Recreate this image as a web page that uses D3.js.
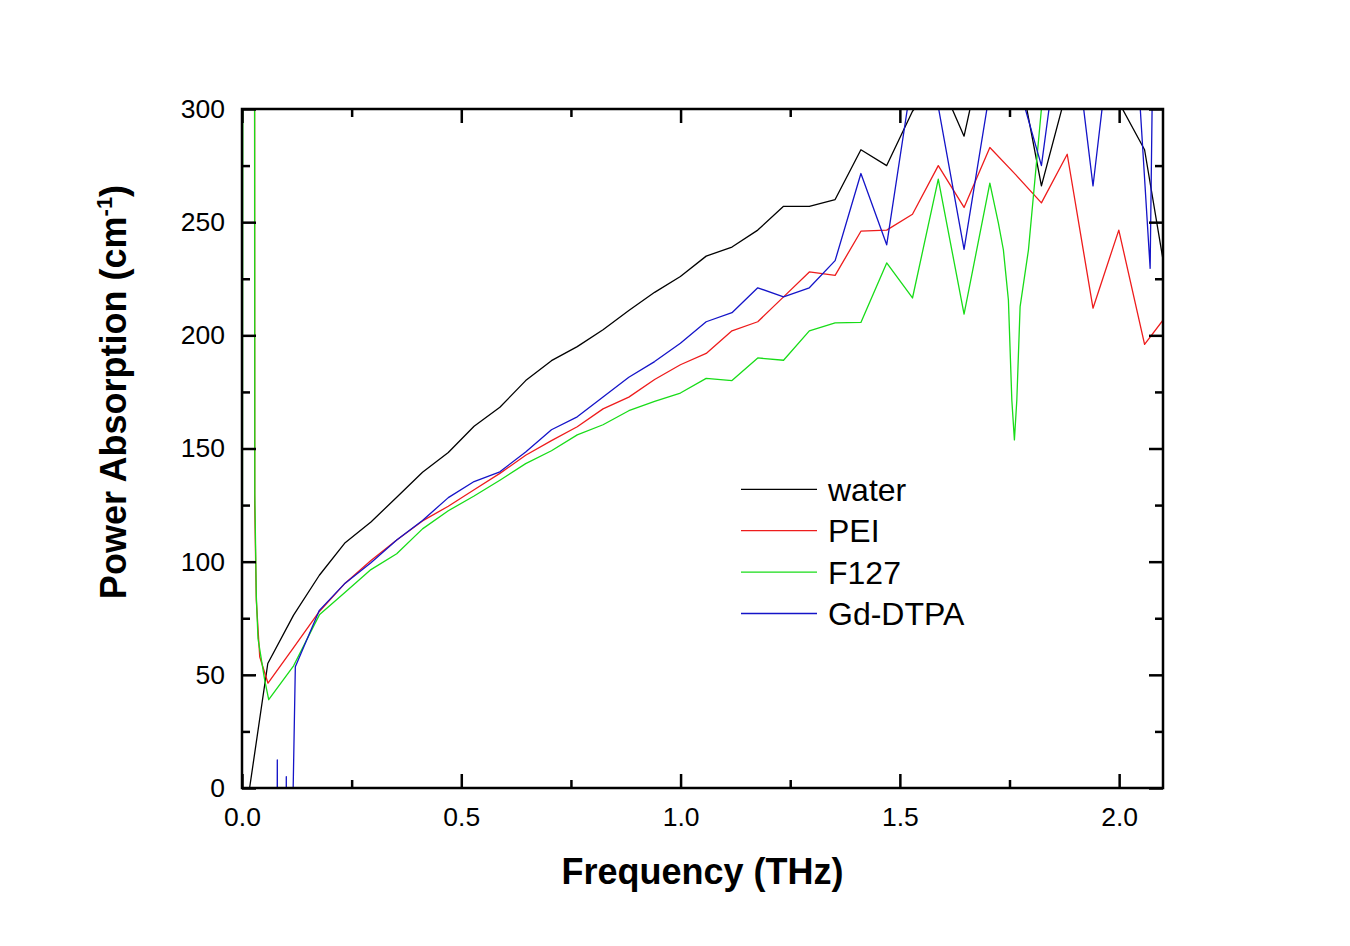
<!DOCTYPE html>
<html><head><meta charset="utf-8">
<script src="https://cdn.jsdelivr.net/npm/d3@7"></script>
<style>
body{margin:0;background:#fff;}
svg{display:block;font-family:Arial,"Liberation Sans",sans-serif;}
</style>
</head><body>
<svg id="chart" width="1350" height="946"></svg>
<script>
// ---- data (frequency in THz, power absorption in cm^-1) ----
const seriesNames = ["water", "PEI", "F127", "Gd-DTPA"];
const seriesColors = ["#000000", "#ee1c1c", "#18dc18", "#1414c8"];
const xTickLabels = [0, 0.5, 1.0, 1.5, 2.0];
const xMinorTicks = [0.25, 0.75, 1.25, 1.75];
const yTickLabels = [0, 50, 100, 150, 200, 250, 300];
const yMinorTicks = [25, 75, 125, 175, 225, 275];

const water = [[0,-23],[0.0588,55],[0.1176,76.4],[0.1764,94],[0.2352,108.4],[0.294,117.5],[0.3528,128.5],[0.4116,139.5],[0.4704,148.2],[0.5292,159.8],[0.588,168.2],[0.6468,180],[0.7056,188.8],[0.7644,195],[0.8232,202.5],[0.882,211],[0.9408,219],[0.9996,226],[1.0584,235],[1.1172,239],[1.176,246.5],[1.2348,257],[1.2936,257],[1.3524,260],[1.4112,282],[1.47,275],[1.5288,299],[1.5876,314],[1.6464,288],[1.7052,340],[1.764,326],[1.8228,266],[1.8816,309],[1.9404,320],[1.9992,303],[2.058,282],[2.1168,214]];

const pei = [[0.0285,420],[0.029,125],[0.0326,83],[0.0404,58],[0.0593,46.3],[0.1176,62],[0.1764,78],[0.2352,90.5],[0.294,100.5],[0.3528,109.6],[0.4116,118],[0.4704,124.5],[0.5292,131.8],[0.588,139],[0.6468,147],[0.7056,153.5],[0.7644,159.6],[0.8232,167.5],[0.882,172.7],[0.9408,180.5],[0.9996,187],[1.0584,192],[1.1172,202],[1.176,206],[1.2348,217],[1.2936,228],[1.3524,226.5],[1.4112,246],[1.47,246.5],[1.5288,253.5],[1.5876,275],[1.6464,256.5],[1.7052,283],[1.764,271],[1.8228,258.5],[1.8816,280],[1.9404,212],[1.9992,246.5],[2.058,196],[2.1168,211]];

const f127 = [[0,-60],[0.0025,420],[0.0285,420],[0.0292,130],[0.0326,85],[0.0365,66],[0.0518,47.7],[0.0609,39],[0.1176,54],[0.1764,76.5],[0.2352,86.5],[0.294,96.5],[0.3528,103.5],[0.4116,114.5],[0.4704,122.5],[0.5292,129],[0.588,136],[0.6468,143.3],[0.7056,149],[0.7644,156],[0.8232,160.5],[0.882,166.7],[0.9408,170.8],[0.9996,174.5],[1.0584,181],[1.1172,180],[1.176,190],[1.2348,189],[1.2936,202],[1.3524,205.5],[1.4112,205.7],[1.47,232],[1.5288,216.5],[1.5876,269],[1.6464,209.4],[1.7052,267.2],[1.7248,249.5],[1.7361,237.7],[1.7475,215.6],[1.7553,171.4],[1.7612,153.8],[1.7667,171.4],[1.7742,212.7],[1.7932,237.7],[1.8237,302],[1.8816,330],[1.9404,330],[1.9992,330],[2.058,330],[2.1168,330]];

const gdDtpa = [[0,-300],[0.076,-300],[0.0805,12.4],[0.085,-300],[0.097,-300],[0.101,5],[0.105,-300],[0.113,-40],[0.1216,53.6],[0.1764,78.5],[0.2352,90.5],[0.294,99.5],[0.3528,109.6],[0.4116,118.2],[0.4704,128.3],[0.5292,135.4],[0.588,139.7],[0.6468,148.5],[0.7056,158.3],[0.7644,164],[0.8232,172.8],[0.882,181.5],[0.9408,188.4],[0.9996,196.5],[1.0584,206],[1.1172,210],[1.176,221],[1.2348,217],[1.2936,221],[1.3524,233],[1.4112,271.5],[1.47,240],[1.5288,315],[1.5876,301],[1.6464,238],[1.7052,308],[1.764,315],[1.8228,275],[1.8816,360],[1.9404,266],[1.9992,363],[2.045,310],[2.0707,229.6],[2.077,330],[2.1168,340]];

const seriesData = [water, pei, f127, gdDtpa];

// ---- layout ----
const L = 242, R = 1163, T = 109, B = 788;
const svg = d3.select("#chart");
const x = d3.scaleLinear().domain([0, 2.1]).range([L, R]);
const y = d3.scaleLinear().domain([0, 300]).range([B, T]);

svg.append("rect").attr("width",1350).attr("height",946).attr("fill","#fff");

svg.append("defs").append("clipPath").attr("id","plotclip")
  .append("rect").attr("x",L).attr("y",T).attr("width",R-L).attr("height",B-T);

// lines
const line = d3.line().x(d => x(d[0])).y(d => y(d[1]));
const g = svg.append("g").attr("clip-path","url(#plotclip)");
seriesData.forEach((s,i) => {
  g.append("path").datum(s).attr("d", line)
    .attr("fill","none").attr("stroke", seriesColors[i])
    .attr("stroke-width",1.3).attr("stroke-linejoin","round");
});

// axes
function styleAxis(sel){
  sel.select(".domain").remove();
  sel.selectAll(".tick line").attr("stroke","#000").attr("stroke-width",2.5);
  sel.selectAll(".tick text").attr("fill","#000").style("font-size","26.5px")
     .style("font-family","Arial, 'Liberation Sans', sans-serif");
}
const MAJ = 14, MIN = 8;
svg.append("g").attr("transform",`translate(0,${B})`)
  .call(d3.axisBottom(x).tickValues(xTickLabels).tickSize(-MAJ).tickPadding(19).tickFormat(d3.format(".1f")))
  .call(styleAxis);
svg.append("g").attr("transform",`translate(0,${B})`)
  .call(d3.axisBottom(x).tickValues(xMinorTicks).tickSize(-MIN).tickFormat(""))
  .call(styleAxis);
svg.append("g").attr("transform",`translate(0,${T})`)
  .call(d3.axisTop(x).tickValues(xTickLabels).tickSize(-MAJ).tickFormat(""))
  .call(styleAxis);
svg.append("g").attr("transform",`translate(0,${T})`)
  .call(d3.axisTop(x).tickValues(xMinorTicks).tickSize(-MIN).tickFormat(""))
  .call(styleAxis);
svg.append("g").attr("transform",`translate(${L},0)`)
  .call(d3.axisLeft(y).tickValues(yTickLabels).tickSize(-MAJ).tickPadding(17).tickFormat(d3.format("d")))
  .call(styleAxis);
svg.append("g").attr("transform",`translate(${L},0)`)
  .call(d3.axisLeft(y).tickValues(yMinorTicks).tickSize(-MIN).tickFormat(""))
  .call(styleAxis);
svg.append("g").attr("transform",`translate(${R},0)`)
  .call(d3.axisRight(y).tickValues(yTickLabels).tickSize(-MAJ).tickFormat(""))
  .call(styleAxis);
svg.append("g").attr("transform",`translate(${R},0)`)
  .call(d3.axisRight(y).tickValues(yMinorTicks).tickSize(-MIN).tickFormat(""))
  .call(styleAxis);

// frame
svg.append("rect").attr("x",L).attr("y",T).attr("width",R-L).attr("height",B-T)
  .attr("fill","none").attr("stroke","#000").attr("stroke-width",2.5);

// axis titles
svg.append("text").attr("x",(L+R)/2).attr("y",884).attr("text-anchor","middle")
  .style("font-size","36px").style("font-weight","bold").text("Frequency (THz)");
const yt = svg.append("text").attr("transform","translate(126,392) rotate(-90)")
  .attr("text-anchor","middle").style("font-size","36px").style("font-weight","bold");
yt.append("tspan").text("Power Absorption (cm");
yt.append("tspan").attr("dy",-14).style("font-size","22px").text("-1");
yt.append("tspan").attr("dy",14).text(")");

// legend
const legY0 = 489.3, legStep = 41.4;
seriesNames.forEach((n,i) => {
  const ly = legY0 + i*legStep;
  svg.append("line").attr("x1",741).attr("x2",817).attr("y1",ly).attr("y2",ly)
    .attr("stroke",seriesColors[i]).attr("stroke-width",1.3);
  svg.append("text").attr("x",828).attr("y",ly+11.5).style("font-size","32px").text(n);
});
</script>
</body></html>
